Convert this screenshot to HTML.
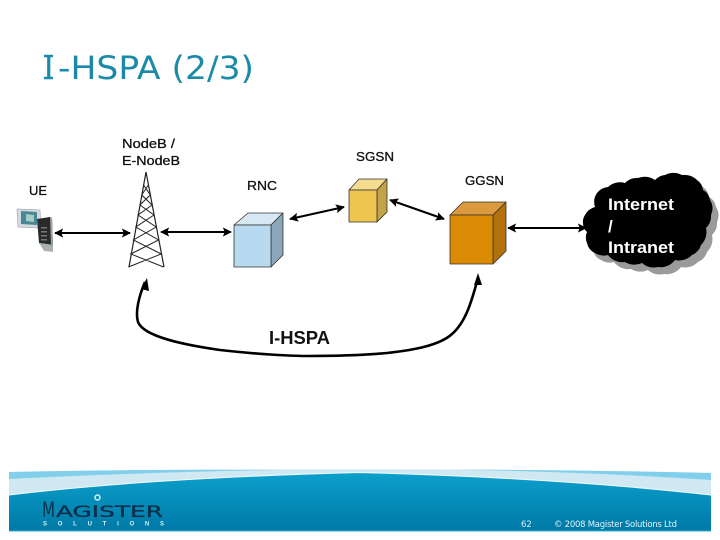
<!DOCTYPE html>
<html><head><meta charset="utf-8"><style>html,body{margin:0;padding:0;background:#fff;width:720px;height:540px;overflow:hidden}svg{display:block}text{font-family:"Liberation Sans",sans-serif}</style></head><body>
<svg width="720" height="540" viewBox="0 0 720 540" xmlns="http://www.w3.org/2000/svg">
<defs>
<linearGradient id="ft" x1="0" y1="0" x2="0" y2="1"><stop offset="0" stop-color="#0ba0cc"/><stop offset="1" stop-color="#0079a6"/></linearGradient>
<marker id="a" viewBox="0 0 10 10" refX="9" refY="5" markerWidth="9" markerHeight="9" markerUnits="userSpaceOnUse" orient="auto-start-reverse"><path d="M0 0L10 5L0 10L2 5z" fill="#000"/></marker>
<path id="cl" d="M585 215A16 16 0 0 1 595 207A16 16 0 0 1 597 193A16 16 0 0 1 608 187A18 18 0 0 1 625 183A16 16 0 0 1 638 178A18 18 0 0 1 655 180A16 16 0 0 1 665 175A18 18 0 0 1 682 175A18 18 0 0 1 697 180A14 14 0 0 1 703 190A14 14 0 0 1 710 200A16 16 0 0 1 711 215A16 16 0 0 1 706 228A18 18 0 0 1 701 245A16 16 0 0 1 692 255A18 18 0 0 1 675 260A18 18 0 0 1 658 267A18 18 0 0 1 642 263A18 18 0 0 1 625 262A18 18 0 0 1 608 255A16 16 0 0 1 595 253A14 14 0 0 1 587 243A14 14 0 0 1 587 232A12 12 0 0 1 583 223A12 12 0 0 1 585 215z"/>
</defs>
<text x="44" y="79" font-size="32" style="font-family:'DejaVu Sans',sans-serif" fill="#1b8aa9">I</text>
<text x="58" y="79" font-size="32" style="font-family:'DejaVu Sans',sans-serif" fill="#1b8aa9" textLength="196" lengthAdjust="spacingAndGlyphs">-HSPA (2/3)</text>
<path d="M44 56H53M44 78H53" stroke="#1b8aa9" stroke-width="2.400" fill="none"/>

<g fill="#111" stroke="#111" stroke-width=".3" font-size="13">
<text x="122" y="148" textLength="53" lengthAdjust="spacingAndGlyphs">NodeB /</text>
<text x="122" y="165" textLength="58" lengthAdjust="spacingAndGlyphs">E-NodeB</text>
<text x="29" y="195" textLength="18" lengthAdjust="spacingAndGlyphs">UE</text>
<text x="247" y="190" textLength="30" lengthAdjust="spacingAndGlyphs">RNC</text>
<text x="356" y="161" textLength="38" lengthAdjust="spacingAndGlyphs">SGSN</text>
<text x="465" y="185" textLength="39" lengthAdjust="spacingAndGlyphs">GGSN</text>
</g>

<!-- phone -->
<g>
<path d="M17 209L40 210L41 228L18 227z" fill="#d4dadd" stroke="#aab" stroke-width=".7"/>
<path d="M21 211L37 212L37 225L21 224z" fill="#4a8794"/>
<path d="M26 214L34 215L34 222L26 221z" fill="#a9cbc6"/>
<path d="M37 219L50 217L52 218L53 245L39 243z" fill="#2a2a2a"/>
<path d="M39 243L53 245L53 252L44 251z" fill="#a8b0b4"/>
<path d="M50 217L52 218L53 247L51 246z" fill="#9aa3a8"/>
<g fill="#777"><rect x="41" y="227" width="6" height="1.500"/><rect x="41" y="231" width="6" height="1.500"/><rect x="41" y="235" width="6" height="1.500"/><rect x="41" y="239" width="6" height="1.500"/></g>
</g>

<!-- tower -->
<g fill="none" stroke="#222" stroke-width="1">
<path d="M146 172L129 267M146 172L164 267" stroke-width="1.200"/>
<path d="M143.600 185L150.300 195L139.900 205L154 215L135.800 227L158.600 240L130.800 254L163.600 267M148.400 185L141.700 195L152.100 205L138 215L156.200 227L133.400 240L161.200 254L128.400 267"/>
</g>

<!-- cubes -->
<g stroke="#333" stroke-width=".8" stroke-linejoin="round">
<path d="M234 225L248 213H283L271 225z" fill="#d7e8f2"/><path d="M271 225L283 213V255L271 267z" fill="#8ba6b8"/><rect x="234" y="225" width="37" height="42" fill="#b7daf0"/>
<path d="M349 190L359 179H387L377 190z" fill="#f6dc8e"/><path d="M377 190L387 179V212L377 222z" fill="#c2a24a"/><rect x="349" y="190" width="28" height="32" fill="#edc54f"/>
<path d="M450 215L463 202H506L493 215z" fill="#dc9a3e"/><path d="M493 215L506 202V251L493 264z" fill="#b3710c"/><rect x="450" y="215" width="43" height="49" fill="#dc8b05"/>
</g>

<!-- cloud -->
<use href="#cl" x="6" y="7" fill="#9a9a9a"/>
<use href="#cl" fill="#000"/>
<text x="608" y="210" font-size="17" font-weight="700" fill="#fff" textLength="66" lengthAdjust="spacingAndGlyphs">Internet</text>
<text x="608" y="232" font-size="17" font-weight="700" fill="#fff">/</text>
<text x="608" y="253" font-size="17" font-weight="700" fill="#fff" textLength="66" lengthAdjust="spacingAndGlyphs">Intranet</text>

<!-- connectors -->
<g stroke="#000" stroke-width="2" fill="none">
<line x1="55" y1="233" x2="130" y2="233" marker-start="url(#a)" marker-end="url(#a)"/>
<line x1="161" y1="232" x2="231" y2="232" marker-start="url(#a)" marker-end="url(#a)"/>
<line x1="290" y1="219" x2="344" y2="207" marker-start="url(#a)" marker-end="url(#a)"/>
<line x1="390" y1="200" x2="444" y2="219" marker-start="url(#a)" marker-end="url(#a)"/>
<line x1="508" y1="228" x2="586" y2="228" marker-start="url(#a)" marker-end="url(#a)"/>
</g>
<path d="M145 282C139 296 135 312 138 322C144 337 185 345 220 350C255 354 290 356 307 356C340 356 365 355 387 353C415 350 440 345 452 334C466 322 472 300 478 278" fill="none" stroke="#000" stroke-width="2.600"/>
<path d="M147 278L141 289L149 291z M478 273L474 285L482 285z" fill="#000"/>
<text x="269" y="344" font-size="18" font-weight="700" fill="#111" textLength="61" lengthAdjust="spacingAndGlyphs">I-HSPA</text>

<!-- footer -->
<path d="M9 472Q360 466 711 473V495Q560 478 360 472.500Q150 478 9 495z" fill="#cfe8f2"/>
<path d="M9 472Q150 469 280 470Q150 472 9 479z" fill="#82cfec"/>
<path d="M711 473Q590 470 450 469.500Q590 472 711 480z" fill="#82cfec"/>
<path d="M9 495Q150 478 360 472.500Q560 478 711 495V531H9z" fill="url(#ft)"/>
<path d="M9 495Q150 478 360 472.500Q560 478 711 495" fill="none" stroke="#f2fbfe" stroke-width="1"/>
<path d="M9 531H711" stroke="#35b0d2" stroke-width="1"/>

<!-- logo -->
<text x="42" y="517" font-size="21" style="font-family:'DejaVu Sans',sans-serif" fill="#0a2f4a" textLength="13" lengthAdjust="spacingAndGlyphs">M</text>
<text x="56" y="517" font-size="16" style="font-family:'DejaVu Sans',sans-serif" fill="#0a2f4a" stroke="#0a2f4a" stroke-width=".3" textLength="107" lengthAdjust="spacingAndGlyphs">AGISTER</text>
<circle cx="97.500" cy="497.500" r="2.500" fill="none" stroke="#d8f0f6" stroke-width="1.500"/>
<text x="43" y="525.500" font-size="6" font-weight="700" fill="#d8eef5" textLength="121">SOLUTIONS</text>

<text x="521" y="527" font-size="8.500" style="font-family:'DejaVu Sans',sans-serif" fill="#d9eef5">62</text>
<text x="554" y="527" font-size="8.500" style="font-family:'DejaVu Sans',sans-serif" fill="#e4f3f8" textLength="123">© 2008 Magister Solutions Ltd</text>
</svg>
</body></html>
